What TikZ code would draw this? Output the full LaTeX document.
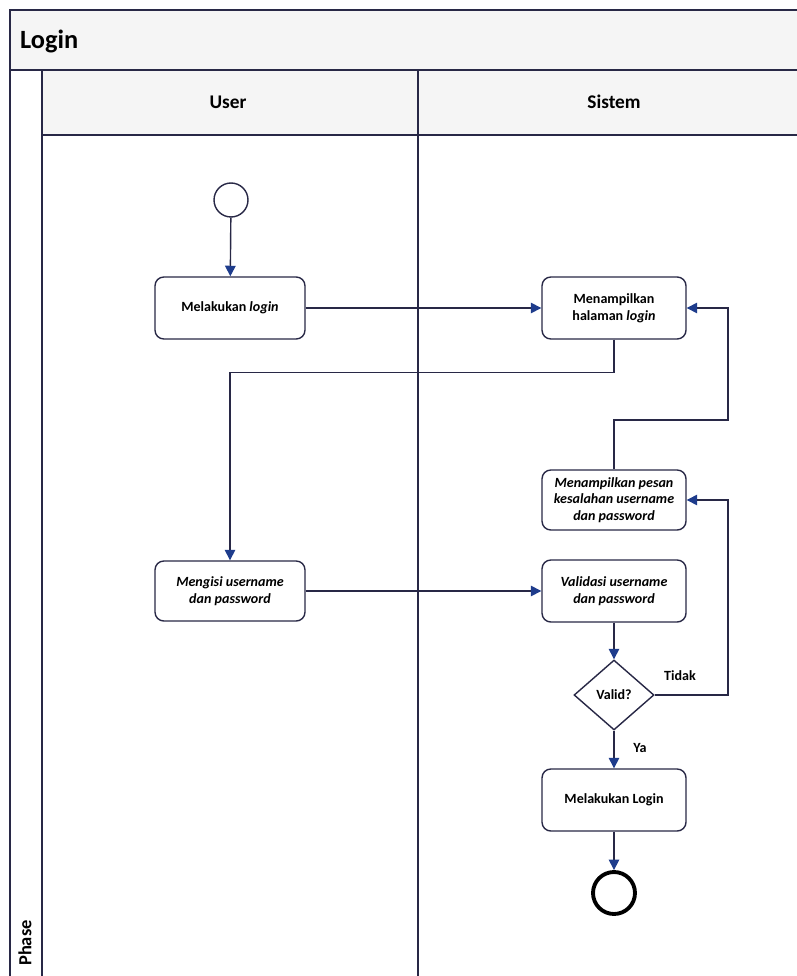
\documentclass[tikz,border=0pt]{standalone}
\usepackage{fontspec}
\setmainfont{Carlito}
\usetikzlibrary{arrows.meta,shapes.geometric}
\definecolor{lanecol}{RGB}{40,40,70}
\definecolor{flowcol}{RGB}{30,60,140}
\begin{document}
\begin{tikzpicture}[x=0.02cm, y=-0.02cm, font=\fontsize{8}{9.5}\selectfont\bfseries,
  act/.style={draw=lanecol, fill=white, rounded corners=5pt, line width=0.8pt,
    minimum width=2.88cm, minimum height=1.24cm, align=center, inner sep=2pt},
  flow/.style={draw=lanecol, line width=0.8pt, -{Triangle[length=6pt,width=6pt,fill=flowcol,color=flowcol]}},
  line/.style={draw=lanecol, line width=0.8pt}]
  \clip (0,0) rectangle (797,976);
  % swimlane frame
  \fill[white] (0,0) rectangle (797,976);
  \draw[lanecol, fill=gray!8, line width=1pt] (10,10) rectangle (800,70);
  \draw[lanecol, fill=gray!8, line width=1pt] (42,70) rectangle (800,135);
  \draw[lanecol, line width=1pt] (10,10) rectangle (800,980);
  \draw[lanecol, line width=1pt] (42,70) -- (42,980);
  \draw[lanecol, line width=1pt] (418,70) -- (418,980);
  \node[anchor=west, font=\fontsize{15}{17}\selectfont\bfseries] (title) at (14,41) {Login};
  \node[font=\fontsize{11}{13}\selectfont\bfseries] (user) at (228,102) {User};
  \node[font=\fontsize{11}{13}\selectfont\bfseries] (sistem) at (614,102) {Sistem};
  \node[rotate=90, anchor=west, font=\fontsize{10.5}{12}\selectfont\bfseries] (phase) at (25,972) {Phase};
  % nodes
  \node[circle, draw=lanecol, line width=0.8pt, fill=white, minimum size=0.68cm] (start) at (231,200) {};
  \node[act, minimum width=3cm] (login) at (230,308) {Melakukan \textit{login}};
  \node[act] (halaman) at (614,308) {Menampilkan\\halaman \textit{login}};
  \node[act, minimum height=1.2cm] (pesan) at (614,500) {\textit{Menampilkan pesan}\\\textit{kesalahan username}\\\textit{dan password}};
  \node[act, minimum width=3cm, minimum height=1.2cm] (mengisi) at (230,591) {\textit{Mengisi username}\\\textit{dan password}};
  \node[act] (validasi) at (614,591) {\textit{Validasi username}\\\textit{dan password}};
  \node[diamond, draw=lanecol, line width=0.8pt, fill=white, minimum width=1.6cm, minimum height=1.4cm, inner sep=0pt] (valid) at (614,695) {Valid?};
  \node[act] (masuk) at (614,800) {Melakukan Login};
  \node[circle, draw=black, line width=2.2pt, fill=white, minimum size=0.84cm] (end) at (614,893) {};
  \coordinate (balik1) at (728,420);
  \coordinate (balik2) at (728,695);
  \node (tidak) at (680,676) {Tidak};
  \node (ya) at (640,748) {Ya};
  % connectors
  \draw[flow] (start) -- (login);
  \draw[flow] (login) -- (halaman);
  \draw[flow] (halaman.south) -- ++(0,33) -| (mengisi.north);
  \draw[flow] (pesan.north) |- (balik1) |- (halaman.east);
  \draw[flow] (mengisi) -- (validasi);
  \draw[flow] (validasi) -- (valid);
  \draw[flow] (valid.east) -- (balik2) |- (pesan.east);
  \draw[flow] (valid) -- (masuk);
  \draw[flow] (masuk) -- (end);
\end{tikzpicture}
\end{document}
